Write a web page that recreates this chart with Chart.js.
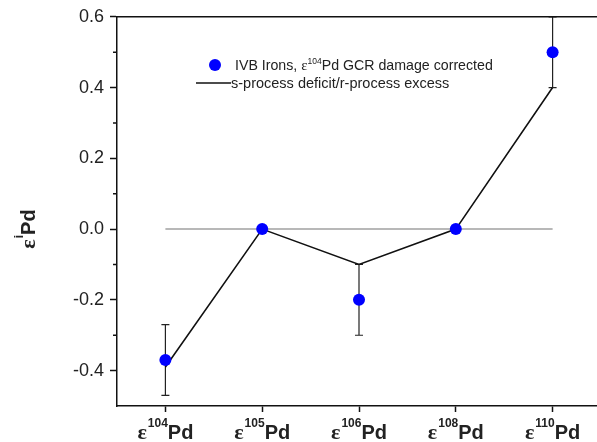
<!DOCTYPE html>
<html>
<head>
<meta charset="utf-8">
<script src="https://cdn.jsdelivr.net/npm/chart.js@4.4.0/dist/chart.umd.min.js"></script>
<style>
body { margin: 0; overflow: hidden; background: #fff; }
#wrap { width: 610px; height: 442px; }
</style>
</head>
<body>
<div id="wrap"><canvas id="graficoPd"></canvas></div>
<script>
var isotopes = ['104', '105', '106', '108', '110'];
var measured = [-0.37, 0, -0.2, 0, 0.5];
var errLow = [-0.47, 0, -0.3, 0, 0.4];
var errHigh = [-0.27, 0, -0.1, 0, 0.6];
var model = [-0.39, 0, -0.1, 0, 0.4];
var zeroLine = [0, 0, 0, 0, 0];
var yTicks = [-0.4, -0.2, 0, 0.2, 0.4, 0.6];
var yMinor = [-0.3, -0.1, 0.1, 0.3, 0.5];

var textColor = '#222';

// draws pieces of text one after another (for superscripts)
function drawParts(ctx, parts, x, y, align) {
    var total = 0;
    parts.forEach(function (p) {
        ctx.font = p.f;
        p.w = ctx.measureText(p.t).width + (p.gap || 0);
        total += p.w;
    });
    var cx = align === 'center' ? x - total / 2 : x;
    ctx.textAlign = 'left';
    ctx.textBaseline = 'alphabetic';
    parts.forEach(function (p) {
        ctx.font = p.f;
        ctx.fillText(p.t, cx, y + (p.dy || 0));
        cx += p.w;
    });
}

var extras = {
    id: 'extras',
    beforeDatasetsDraw: function (chart) {
        var ctx = chart.ctx;
        var xs = chart.scales.x, ys = chart.scales.y;
        ctx.save();
        ctx.strokeStyle = '#222';
        ctx.lineWidth = 1.2;
        for (var i = 0; i < isotopes.length; i++) {
            if (errLow[i] === errHigh[i]) continue;
            var x = xs.getPixelForValue(i);
            var y1 = ys.getPixelForValue(errLow[i]);
            var y2 = ys.getPixelForValue(errHigh[i]);
            ctx.beginPath();
            ctx.moveTo(x, y1); ctx.lineTo(x, y2);
            ctx.moveTo(x - 4, y1); ctx.lineTo(x + 4, y1);
            ctx.moveTo(x - 4, y2); ctx.lineTo(x + 4, y2);
            ctx.stroke();
        }
        ctx.restore();
    },
    afterDraw: function (chart) {
        var ctx = chart.ctx;
        var area = chart.chartArea;
        var xs = chart.scales.x, ys = chart.scales.y;
        ctx.save();
        ctx.strokeStyle = '#111';
        ctx.lineWidth = 1.5;
        ctx.beginPath();
        ctx.moveTo(area.left, area.top);
        ctx.lineTo(area.right, area.top);
        ctx.stroke();

        // minor ticks
        ctx.beginPath();
        yMinor.forEach(function (v) {
            var y = ys.getPixelForValue(v);
            ctx.moveTo(area.left - 4, y);
            ctx.lineTo(area.left, y);
        });
        ctx.stroke();

        ctx.fillStyle = textColor;
        // x labels
        for (var i = 0; i < isotopes.length; i++) {
            drawParts(ctx, [
                { t: '\u03b5', f: 'bold 22px "Liberation Serif"', gap: 1 },
                { t: isotopes[i], f: 'bold 12px "Liberation Sans"', dy: -12 },
                { t: 'Pd', f: 'bold 20px "Liberation Sans"' }
            ], xs.getPixelForValue(i), 439, 'center');
        }

        // y title
        ctx.save();
        ctx.translate(35, 229);
        ctx.rotate(-Math.PI / 2);
        drawParts(ctx, [
            { t: '\u03b5', f: 'bold 22px "Liberation Serif"', gap: 1 },
            { t: 'i', f: 'bold 12px "Liberation Sans"', dy: -12 },
            { t: 'Pd', f: 'bold 20px "Liberation Sans"' }
        ], 0, 0, 'center');
        ctx.restore();

        // legend
        ctx.fillStyle = '#0000ff';
        ctx.beginPath();
        ctx.arc(215, 65, 6, 0, Math.PI * 2);
        ctx.fill();
        ctx.beginPath();
        ctx.moveTo(196, 83);
        ctx.lineTo(231, 83);
        ctx.stroke();
        ctx.fillStyle = textColor;
        drawParts(ctx, [
            { t: 'IVB Irons, ', f: '14.2px "Liberation Sans"' },
            { t: '\u03b5', f: '15px "Liberation Serif"' },
            { t: '104', f: '8.5px "Liberation Sans"', dy: -6 },
            { t: 'Pd GCR damage corrected', f: '14.2px "Liberation Sans"' }
        ], 235, 70, 'left');
        drawParts(ctx, [
            { t: 's-process deficit/r-process excess', f: '14.5px "Liberation Sans"' }
        ], 231, 88, 'left');
        ctx.restore();
    }
};

new Chart(document.getElementById('graficoPd'), {
    type: 'line',
    data: {
        labels: isotopes,
        datasets: [
            {
                label: 'IVB Irons',
                data: measured,
                showLine: false,
                pointRadius: 6,
                pointBackgroundColor: '#0000ff',
                pointBorderWidth: 0,
                order: 0
            }, {
                label: 's-process deficit/r-process excess',
                data: model,
                borderColor: '#111',
                borderWidth: 1.6,
                pointRadius: 0,
                tension: 0,
                fill: false,
                order: 1
            }, {
                label: 'zero',
                data: zeroLine,
                borderColor: '#a0a0a0',
                borderWidth: 1.5,
                pointRadius: 0,
                fill: false,
                order: 2
            }
        ]
    },
    options: {
        responsive: true,
        maintainAspectRatio: false,
        animation: false,
        layout: { padding: { top: 13, right: 9, left: 0, bottom: 0 } },
        plugins: {
            legend: { display: false },
            tooltip: { enabled: false }
        },
        scales: {
            x: {
                offset: true,
                grid: { drawOnChartArea: false, tickLength: 6, tickColor: '#111', tickWidth: 1.5, offset: false },
                border: { color: '#111', width: 1.5 },
                ticks: { display: false },
                afterFit: function (s) { s.height = 36; }
            },
            y: {
                min: -0.5,
                max: 0.6,
                afterBuildTicks: function (s) {
                    s.ticks = yTicks.map(function (v) { return { value: v }; });
                },
                grid: { drawOnChartArea: false, tickLength: 7, tickColor: '#111', tickWidth: 1.5 },
                border: { color: '#111', width: 1.5 },
                ticks: {
                    padding: 6,
                    color: textColor,
                    font: { family: '"Liberation Sans"', size: 18 },
                    callback: function (v) { return v.toFixed(1); }
                },
                afterFit: function (s) { s.width = 117; }
            }
        }
    },
    plugins: [extras]
});
</script>
</body>
</html>
